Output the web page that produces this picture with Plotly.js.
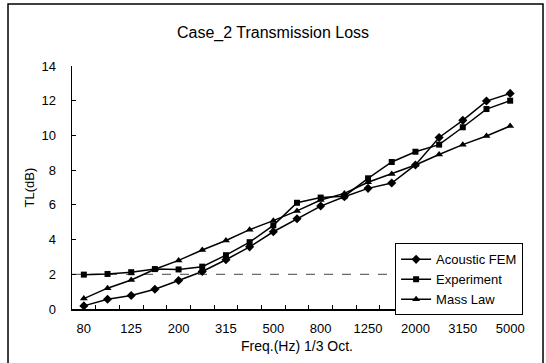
<!DOCTYPE html>
<html>
<head>
<meta charset="utf-8">
<script src="https://cdn.plot.ly/plotly-3.0.1.min.js"></script>
<style>
html,body{margin:0;padding:0;background:#fff;}
#chart{width:546px;height:363px;}
</style>
</head>
<body>
<div id="chart"></div>
<script>
const freqs = ["80","100","125","160","200","250","315","400","500","630","800","1000","1250","1600","2000","2500","3150","4000","5000"];
const tickLabels = ["80","","125","","200","","315","","500","","800","","1250","","2000","","3150","","5000"];
const acousticFEM = [0.18,0.56,0.78,1.14,1.64,2.16,2.84,3.58,4.45,5.2,5.93,6.47,6.95,7.26,8.3,9.88,10.87,11.98,12.42];
const experiment  = [1.98,2.02,2.12,2.3,2.28,2.44,3.1,3.85,4.82,6.12,6.42,6.5,7.53,8.47,9.06,9.47,10.47,11.52,12.0];
const massLaw     = [0.6,1.2,1.67,2.29,2.8,3.4,3.95,4.57,5.09,5.65,6.28,6.66,7.3,7.78,8.3,8.9,9.47,9.97,10.54];

const lineStyle = {color:'#000', width:1.5};
const traces = [
  {x:freqs, y:acousticFEM, name:'Acoustic FEM', mode:'lines+markers', type:'scatter',
   line:lineStyle, marker:{symbol:'diamond', size:7, color:'#000'}},
  {x:freqs, y:experiment, name:'Experiment', mode:'lines+markers', type:'scatter',
   line:lineStyle, marker:{symbol:'square', size:6, color:'#000'}},
  {x:freqs, y:massLaw, name:'Mass Law', mode:'lines+markers', type:'scatter',
   line:lineStyle, marker:{symbol:'triangle-up', size:7, color:'#000'}}
];

const fam = 'Liberation Sans, Arial, sans-serif';
const layout = {
  width:546, height:363,
  margin:{l:72, r:24, t:66, b:54},
  paper_bgcolor:'#fff', plot_bgcolor:'#fff',
  font:{family:fam, color:'#000', size:13},
  showlegend:true,
  title:{text:'Case_2 Transmission Loss', font:{family:fam, size:16, color:'#000'},
         x:0.5, xanchor:'center', y:0.912, yref:'container', yanchor:'middle'},
  xaxis:{type:'category', tickmode:'array', tickvals:freqs, ticktext:tickLabels,
         tickson:'boundaries', ticks:'inside', ticklen:4, tickcolor:'#000', tickangle:0,
         showline:true, linecolor:'#000', linewidth:1.5, showgrid:false, zeroline:false,
         range:[-0.5,18.5], fixedrange:true, ticklabelstandoff:7,
         tickfont:{family:fam, size:13, color:'#000'},
         title:{text:'Freq.(Hz) 1/3 Oct.', font:{family:fam, size:14, color:'#000'}, standoff:6}},
  yaxis:{range:[0,14], dtick:2, ticks:'inside', ticklen:4, tickcolor:'#000',
         showline:true, linecolor:'#000', linewidth:1.5, showgrid:false, zeroline:false,
         tickfont:{family:fam, size:13, color:'#000'}, ticklabelstandoff:12,
         title:{text:'TL(dB)', font:{family:fam, size:13, color:'#000'}, standoff:4}},
  legend:{x:0.718, y:0.27, xanchor:'left', yanchor:'top', bordercolor:'#000', borderwidth:1,
          bgcolor:'#fff', font:{family:fam, size:13, color:'#000'}, tracegroupgap:0,
          itemwidth:30},
  shapes:[
    {type:'line', xref:'paper', yref:'y', x0:0, x1:1, y0:2, y1:2, layer:'below',
     line:{color:'#444', width:1, dash:'dash'}},
    {type:'rect', xref:'paper', yref:'paper', x0:-0.1422, x1:1.0467, y0:-0.25, y1:1.255,
     line:{color:'#000', width:1.5}}
  ]
};
Plotly.newPlot('chart', traces, layout, {displayModeBar:false, staticPlot:true});
</script>
</body>
</html>
